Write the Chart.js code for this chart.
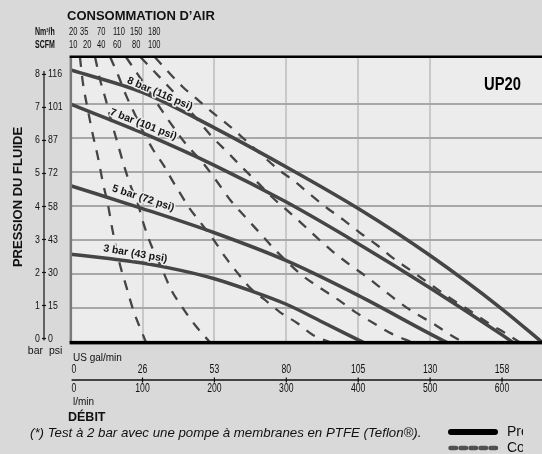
<!DOCTYPE html>
<html><head><meta charset="utf-8">
<script src="https://cdn.jsdelivr.net/npm/chart.js@4/dist/chart.umd.min.js"></script>
<style>html,body{margin:0;padding:0;background:#d9d9d9;}canvas{display:block}</style>
</head><body>
<canvas id="c" width="542" height="454"></canvas>
<script>
// ---- tick labels ----
const flowLmin = [0,100,200,300,400,500,600];
const flowGal  = ['0','26','53','80','105','130','158'];
const pressBar = [0,1,2,3,4,5,6,7,8];
const pressPsi = ['0','15','30','43','58','72','87','101','116'];
const airNm3h  = ['20','35','70','110','150','180'];
const airScfm  = ['10','20','40','60','80','100'];

// ---- solid curves: fluid pressure (bar) vs flow (l/min) at air pressure ----
const curveNames = ['8 bar (116 psi)','7 bar (101 psi)','5 bar (72 psi)','3 bar (43 psi)'];
const p8Flow = [0,100,200,300,400,500,600,656];
const p8Bar  = [8.0,7.34,6.3,5.15,3.93,2.55,0.98,0];
const p7Flow = [0,100,200,300,400,500,600,615];
const p7Bar  = [7.0,6.15,5.2,4.12,2.9,1.6,0.22,0];
const p5Flow = [0,100,200,300,400,500,523];
const p5Bar  = [4.6,3.93,3.22,2.4,1.38,0.25,0];
const p3Flow = [0,50,100,150,200,250,300,350,407];
const p3Bar  = [2.59,2.47,2.33,2.13,1.87,1.52,1.12,0.6,0];

// ---- dashed curves: air consumption 20/35/70/110/150/180 Nm3/h ----
const a20Flow = [13,17,24,31,38,45,52,58,67,78,88,98,105];
const a20Bar  = [8.38,7.64,6.83,6.09,5.44,4.68,4.04,3.33,2.42,1.60,0.89,0.36,0];
const a35Flow = [34,41,49,58,66,74,83,94,102,112,126,140,155,173,194];
const a35Bar  = [8.38,7.71,7.12,6.39,5.80,5.21,4.62,4.04,3.45,2.86,2.21,1.54,1.04,0.51,0];
const a70Flow = [55,66,77,90,102,115,129,141,152,165,181,199,216,231,251,269,291,315,337,361];
const a70Bar  = [8.38,7.85,7.26,6.67,6.14,5.65,5.21,4.77,4.39,3.95,3.51,3.01,2.48,2.07,1.57,1.27,0.89,0.57,0.22,0];
const a110Flow = [77,97,117,138,159,184,204,222,243,262,282,302,323,347,371,396,421,447,475];
const a110Bar  = [8.38,7.76,7.12,6.47,5.86,5.27,4.71,4.18,3.68,3.24,2.77,2.35,1.95,1.60,1.27,0.89,0.57,0.25,0];
const a150Flow = [97,117,138,159,177,197,218,238,257,280,302,319,343,365,389,412,435,455,479,503,524,546];
const a150Bar  = [8.38,7.94,7.47,6.97,6.53,6.03,5.59,5.15,4.76,4.27,3.86,3.54,3.07,2.66,2.27,1.92,1.54,1.21,0.86,0.57,0.28,0];
const a180Flow = [117,136,156,177,198,219,243,266,290,311,334,357,380,403,426,448,472,500,528,556,583,604,625];
const a180Bar  = [8.38,7.94,7.50,7.12,6.74,6.39,5.94,5.50,5.06,4.74,4.33,3.94,3.59,3.21,2.86,2.48,2.13,1.71,1.30,0.92,0.54,0.28,0];

// curve label anchors (flow, bar) and angles
const labelFlow = [124,101,101,90];
const labelBar  = [7.30,6.40,4.23,2.60];
const labelAngle = [23,21,18,9.5];

const LINE = '#454545';
const pts = (xs, ys) => xs.map((x,i)=>({x:x, y:ys[i]}));
const solid = (xs, ys) => ({data:pts(xs,ys), borderColor:LINE, borderWidth:3.5, cubicInterpolationMode:'monotone', fill:false, pointRadius:0});
const dashed = (xs, ys) => ({data:pts(xs,ys), borderColor:LINE, borderWidth:2.3, borderDash:[10,9], cubicInterpolationMode:'monotone', fill:false, pointRadius:0});

const SANS = '"Liberation Sans", Arial, sans-serif';
const isInt = v => Math.abs(v - Math.round(v)) < 1e-6;

// draw horizontally condensed text (still real text)
function txt(ctx, s, x, y, font, align, sx){
  ctx.save();
  ctx.font = font; ctx.textAlign = align;
  ctx.translate(x, y); ctx.scale(sx, 1);
  ctx.fillText(s, 0, 0);
  ctx.restore();
}

const deco = {
  id:'deco',
  beforeDraw(chart){
    const {ctx, chartArea:a} = chart;
    ctx.save();
    ctx.fillStyle = '#ececec';
    ctx.fillRect(a.left, a.top, a.right-a.left, a.bottom-a.top);
    ctx.restore();
  },
  afterDatasetsDraw(chart){
    const {ctx, chartArea:a, scales:{x, y}} = chart;
    ctx.save();
    // curve labels
    ctx.font = 'bold 10.5px ' + SANS;
    ctx.textAlign = 'center'; ctx.textBaseline = 'middle';
    curveNames.forEach((t,i)=>{
      ctx.save();
      ctx.translate(x.getPixelForValue(labelFlow[i]), y.getPixelForValue(labelBar[i]));
      ctx.rotate(labelAngle[i]*Math.PI/180);
      ctx.lineJoin='round';
      ctx.strokeStyle = '#ececec'; ctx.lineWidth = 3;
      ctx.strokeText(t,0,0);
      ctx.fillStyle = '#151515';
      ctx.fillText(t,0,0);
      ctx.restore();
    });
    // borders
    ctx.fillStyle = '#7a7a7a';
    ctx.fillRect(a.left-1, a.top, 2.5, a.bottom-a.top);
    ctx.fillStyle = '#000';
    ctx.fillRect(a.left-1, a.top-1.5, a.right-a.left+1, 2.5);
    ctx.fillRect(a.left-1, a.bottom-1.5, a.right-a.left+1, 3.5);
    // model name
    ctx.fillStyle='#000'; ctx.textBaseline='alphabetic';
    txt(ctx, 'UP20', 484, 90, 'bold 18px ' + SANS, 'left', 0.82);
    ctx.restore();
  },
  afterDraw(chart){
    const {ctx, chartArea:a, scales:{x, y}} = chart;
    ctx.save();
    ctx.fillStyle = '#111'; ctx.strokeStyle = '#111';
    // header
    ctx.textAlign='left'; ctx.textBaseline='alphabetic';
    ctx.font = 'bold 13px ' + SANS;
    ctx.fillText('CONSOMMATION D\u2019AIR', 67, 20);
    txt(ctx, 'Nm\u00b3/h', 35, 35, 'bold 10px ' + SANS, 'left', 0.7);
    txt(ctx, 'SCFM', 35, 47.5, 'bold 10px ' + SANS, 'left', 0.7);
    const nmX = [69,80,97,113,130,148];
    const scX = [69,83,97,113,132,148];
    airNm3h.forEach((t,i)=>txt(ctx, t, nmX[i], 35, '10px ' + SANS, 'left', 0.75));
    airScfm.forEach((t,i)=>txt(ctx, t, scX[i], 47.5, '10px ' + SANS, 'left', 0.75));

    // left axis
    ctx.save();
    ctx.translate(18, 197); ctx.rotate(-Math.PI/2);
    ctx.font = 'bold 13px ' + SANS; ctx.textAlign='center'; ctx.textBaseline='middle';
    ctx.fillText('PRESSION DU FLUIDE', 0, 0);
    ctx.restore();
    const ly = v => y.getPixelForValue(v) - 3.9 + 1.05*v;
    ctx.lineWidth = 1.2;
    ctx.beginPath(); ctx.moveTo(44, ly(8)-3.5); ctx.lineTo(44, ly(0)+2); ctx.stroke();
    ctx.textBaseline='middle';
    pressBar.forEach((v,i)=>{
      const py = ly(v);
      ctx.beginPath(); ctx.moveTo(42, py); ctx.lineTo(46, py); ctx.stroke();
      txt(ctx, String(v), 40, py, '11px ' + SANS, 'right', 0.8);
      txt(ctx, pressPsi[i], 48, py, '11px ' + SANS, 'left', 0.8);
    });
    txt(ctx, 'bar', 43, 351, '10.5px ' + SANS, 'right', 1);
    txt(ctx, 'psi', 49, 351, '10.5px ' + SANS, 'left', 1);

    // bottom axis
    const axY = 380;
    ctx.lineWidth = 1.5;
    ctx.beginPath(); ctx.moveTo(a.left+1, axY); ctx.lineTo(542, axY); ctx.stroke();
    ctx.lineWidth = 1.2;
    flowLmin.forEach((v,i)=>{
      const px = x.getPixelForValue(v);
      if (i>0){ ctx.beginPath(); ctx.moveTo(px, axY-2.5); ctx.lineTo(px, axY+2.5); ctx.stroke(); }
      const al = i===0 ? 'left' : 'center';
      const tx = i===0 ? px+1 : px;
      txt(ctx, flowGal[i], tx, 370, '12px ' + SANS, al, 0.72);
      txt(ctx, String(v), tx, 389, '12px ' + SANS, al, 0.72);
    });
    ctx.font = '10px ' + SANS; ctx.textAlign='left';
    ctx.fillText('US gal/min', 73, 358);
    ctx.fillText('l/min', 73, 402);
    ctx.font = 'bold 12.5px ' + SANS;
    ctx.fillText('D\u00c9BIT', 68, 418);

    // footnote (fit to its width in the reference)
    const note = '(*) Test \u00e0 2 bar avec une pompe \u00e0 membranes en PTFE (Teflon\u00ae).';
    ctx.font = 'italic 13px ' + SANS;
    const fs = 13 * 392 / ctx.measureText(note).width;
    ctx.font = 'italic ' + fs.toFixed(2) + 'px ' + SANS;
    ctx.fillText(note, 30, 433);

    // legend
    ctx.lineCap='round';
    ctx.strokeStyle='#000'; ctx.lineWidth=6;
    ctx.beginPath(); ctx.moveTo(451,432); ctx.lineTo(495,432); ctx.stroke();
    ctx.strokeStyle='#505050'; ctx.lineWidth=4.5; ctx.setLineDash([5.5,4.5]);
    ctx.beginPath(); ctx.moveTo(450.5,448); ctx.lineTo(497,448); ctx.stroke();
    ctx.setLineDash([]);
    ctx.save();
    ctx.beginPath(); ctx.rect(500, 420, 23, 34); ctx.clip();
    ctx.font = '14px ' + SANS; ctx.fillStyle='#111';
    ctx.fillText('Pression du fluide', 507, 432);
    ctx.fillText('Consommation d\u2019air', 507, 448);
    ctx.restore();
    ctx.restore();
  }
};

new Chart(document.getElementById('c'), {
  type:'line',
  data:{datasets:[
    solid(p8Flow,p8Bar), solid(p7Flow,p7Bar), solid(p5Flow,p5Bar), solid(p3Flow,p3Bar),
    dashed(a20Flow,a20Bar), dashed(a35Flow,a35Bar), dashed(a70Flow,a70Bar),
    dashed(a110Flow,a110Bar), dashed(a150Flow,a150Bar), dashed(a180Flow,a180Bar)
  ]},
  options:{
    responsive:false, animation:false, devicePixelRatio:1,
    layout:{padding:{left:70.6, top:57, right:0, bottom:111.6}},
    plugins:{legend:{display:false}, tooltip:{enabled:false}},
    elements:{point:{radius:0}},
    scales:{
      x:{type:'linear', min:0, max:655.6,
         ticks:{display:false, stepSize:100}, border:{display:false},
         grid:{drawTicks:false, lineWidth:2,
           color:c=> (c.tick && isInt(c.tick.value/100) && c.tick.value>0) ? '#c8c8c8' : 'rgba(0,0,0,0)'},
         afterFit(s){ s.height = 0; }},
      y:{type:'linear', min:0, max:8.38,
         ticks:{display:false, stepSize:1}, border:{display:false},
         grid:{drawTicks:false, lineWidth:2,
           color:c=> (c.tick && isInt(c.tick.value) && c.tick.value>0) ? '#a8a8a8' : 'rgba(0,0,0,0)'},
         afterFit(s){ s.width = 0; }}
    }
  },
  plugins:[deco]
});
</script>
</body></html>
